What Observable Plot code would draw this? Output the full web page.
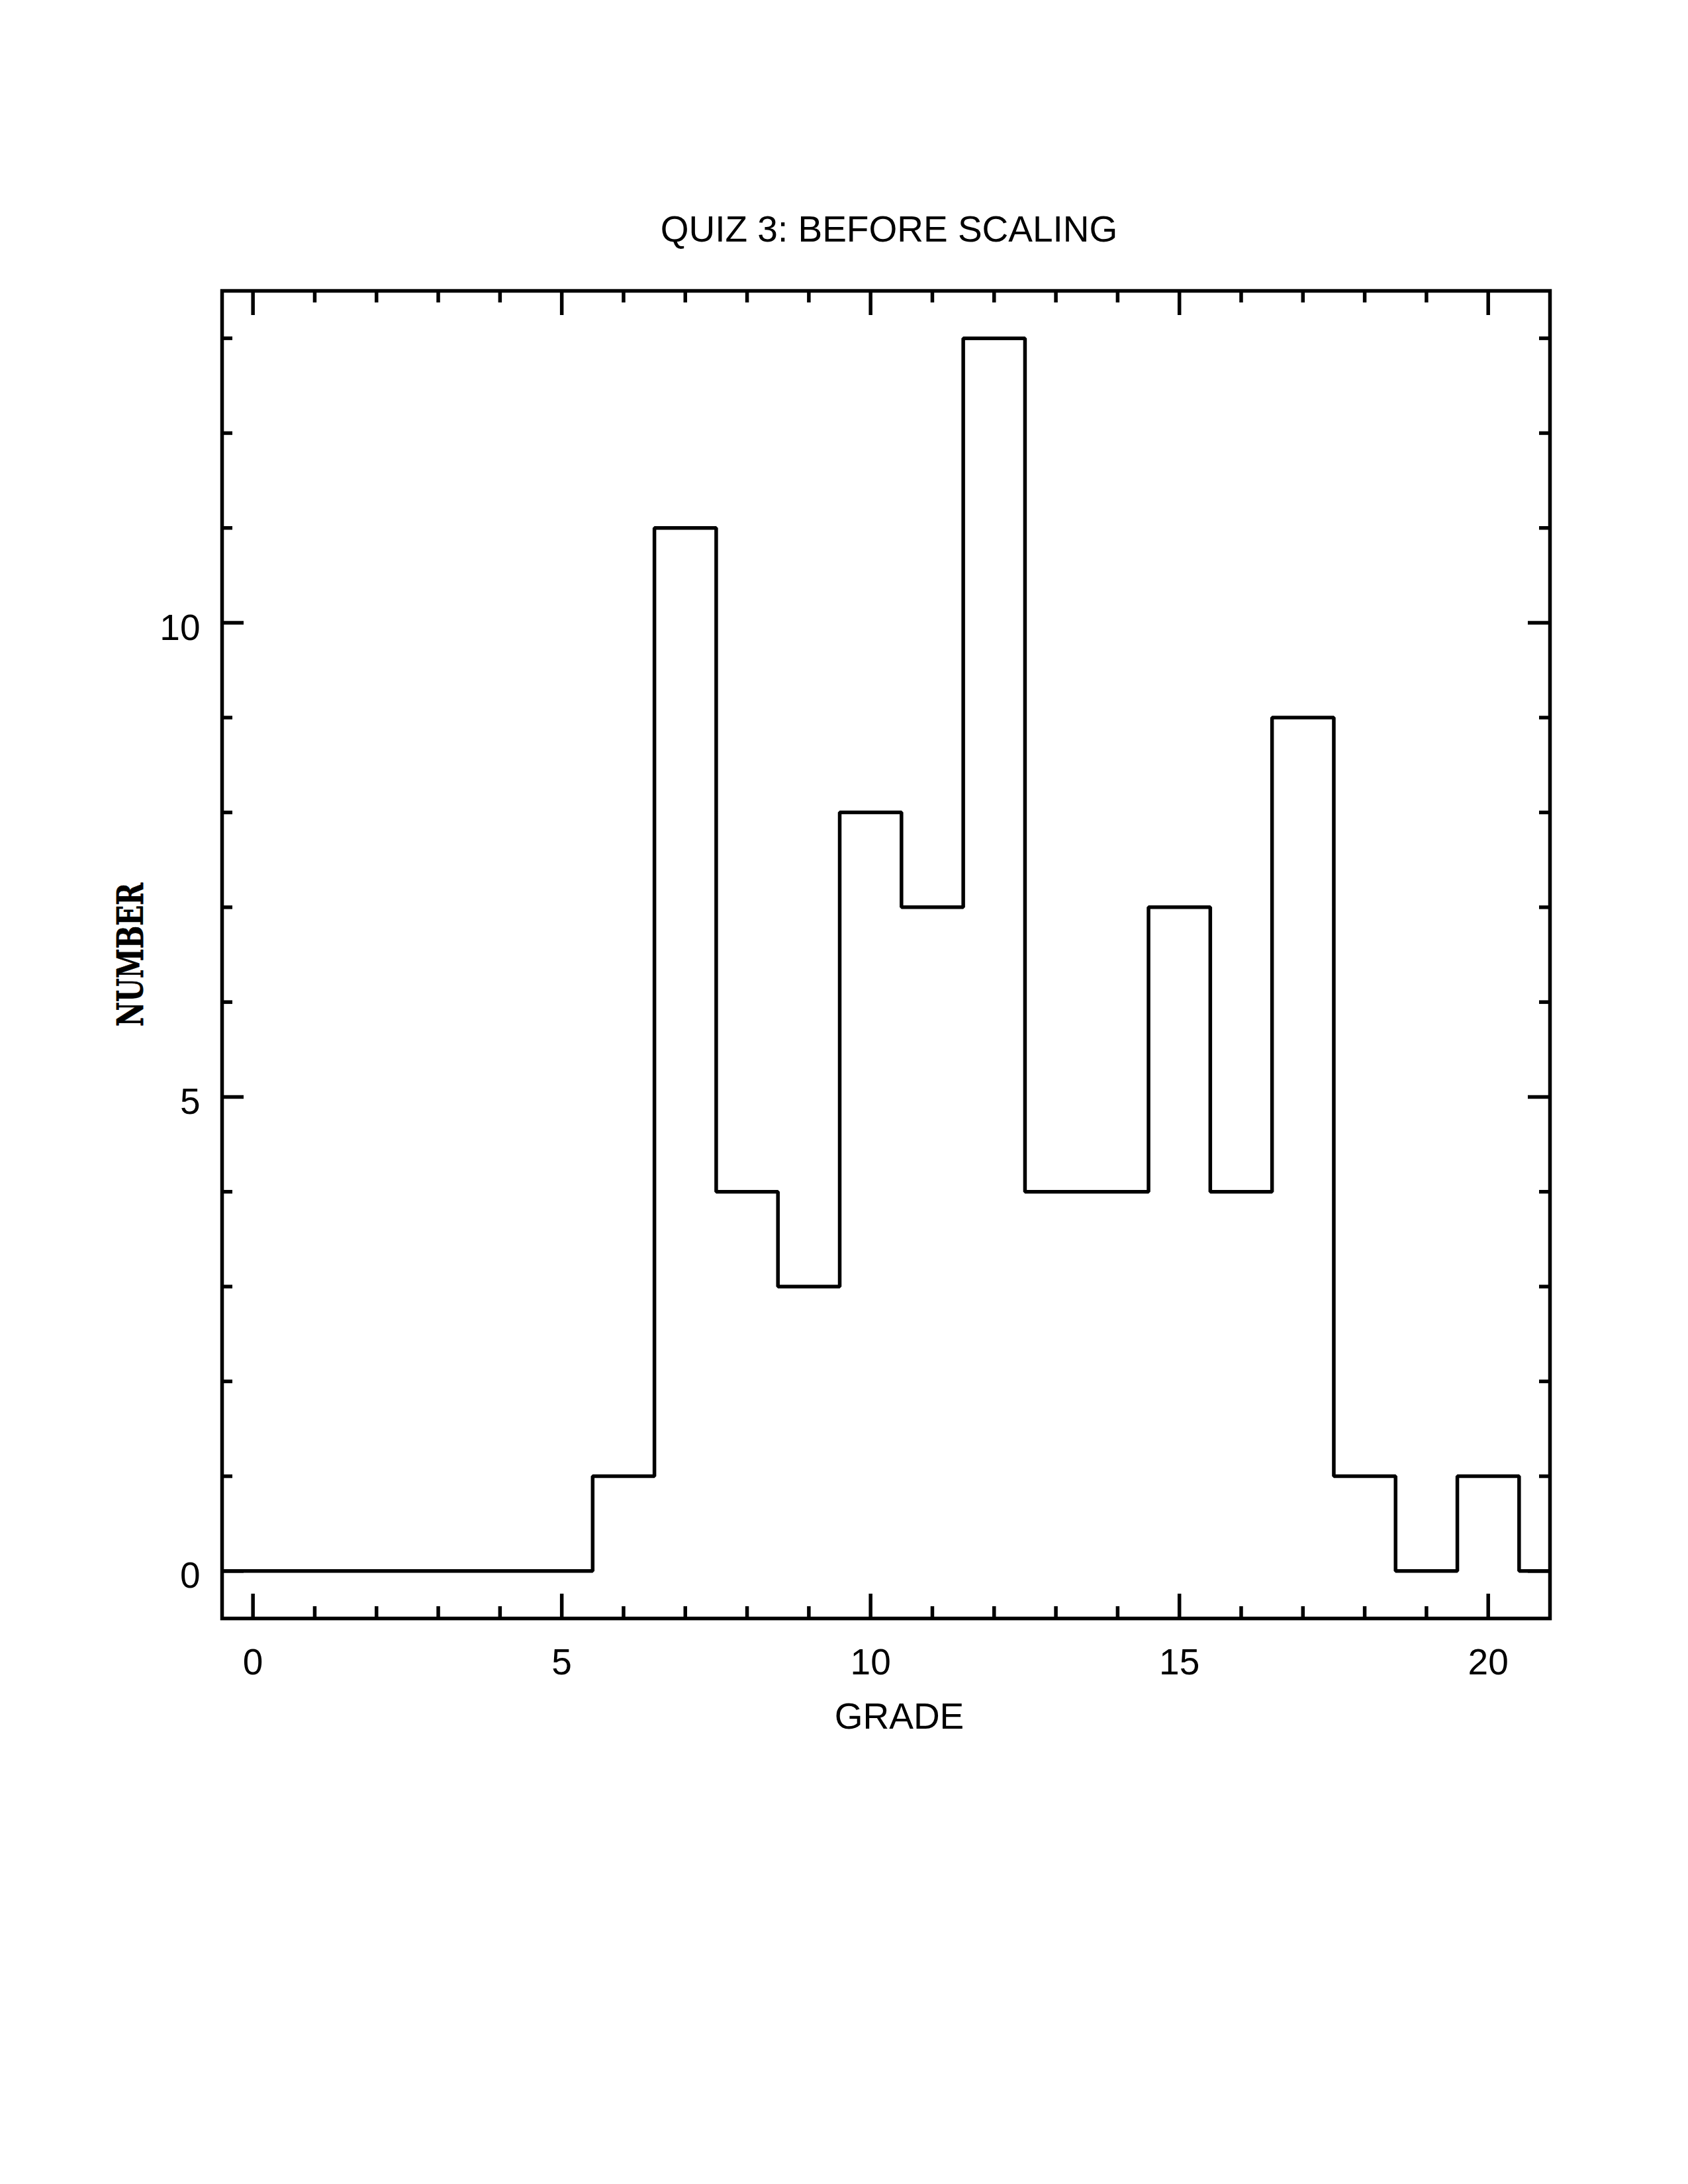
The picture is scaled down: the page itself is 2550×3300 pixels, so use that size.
<!DOCTYPE html>
<html>
<head>
<meta charset="utf-8">
<script src="https://cdn.jsdelivr.net/npm/d3@7"></script>
<script src="https://cdn.jsdelivr.net/npm/@observablehq/plot@0.6"></script>
<style>
  html, body { margin: 0; padding: 0; background: #fff; }
  #page { position: relative; width: 2550px; height: 3300px; background: #fff; }
  #title { position: relative; height: 400px; width: 2550px; }
  #title span {
    position: absolute; left: 1343px; top: 319px; transform: translateX(-50%);
    font-family: "Liberation Sans", Arial, sans-serif; font-size: 55px; line-height: 55px;
    white-space: nowrap; color: #000;
  }
  #chart svg { display: block; }
</style>
</head>
<body>
<div id="page">
  <div id="title"><span>QUIZ 3: BEFORE SCALING</span></div>
  <div id="chart"></div>
</div>
<script>
// ---- data ----
const grades = [0,1,2,3,4,5,6,7,8,9,10,11,12,13,14,15,16,17,18,19,20,21];
const counts = [0,0,0,0,0,0,1,11,4,3,8,7,13,4,4,7,4,9,1,0,1,0];
const xMajorTicks = [0,5,10,15,20];
const xMinorTicks = [1,2,3,4,6,7,8,9,11,12,13,14,16,17,18,19];
const yMajorTicks = [0,5,10];
const yMinorTicks = [1,2,3,4,6,7,8,9,11,12,13];
const xDomain = [-0.5, 21];
const yDomain = [-0.5, 13.5];
const xLabel = "GRADE";
const yLabel = "NUMBER";
const binWidth = 1;

// ---- layout ----
const W = 2550, H = 2300;
const mt = 39, mb = 255, ml = 335, mr = 209;
const frameH = H - mt - mb, frameW = W - ml - mr;
const font = '"Liberation Sans", Arial, sans-serif';
const lw = 5.5;
const yLabelLength = 217;

const steps = grades.flatMap((g, i) => [
  {x: g - binWidth / 2, y: counts[i]},
  {x: g + binWidth / 2, y: counts[i]}
]);

const chart = Plot.plot({
  width: W, height: H,
  marginTop: mt, marginBottom: mb, marginLeft: ml, marginRight: mr,
  style: {fontFamily: font, background: "#fff", color: "#000"},
  x: {domain: xDomain, axis: null},
  y: {domain: yDomain, axis: null},
  marks: [
    // step outline of the histogram
    Plot.line(steps, {x: "x", y: "y", stroke: "#000", strokeWidth: lw, strokeLinejoin: "miter", strokeLinecap: "square", clip: true}),
    // inward ticks, all four sides
    Plot.tickX(xMajorTicks, {x: d => d, insetTop: frameH - 37, strokeWidth: lw}),
    Plot.tickX(xMinorTicks, {x: d => d, insetTop: frameH - 18, strokeWidth: lw}),
    Plot.tickX(xMajorTicks, {x: d => d, insetBottom: frameH - 37, strokeWidth: lw}),
    Plot.tickX(xMinorTicks, {x: d => d, insetBottom: frameH - 18, strokeWidth: lw}),
    Plot.tickY(yMajorTicks, {y: d => d, insetRight: frameW - 33, strokeWidth: lw}),
    Plot.tickY(yMinorTicks, {y: d => d, insetRight: frameW - 16, strokeWidth: lw}),
    Plot.tickY(yMajorTicks, {y: d => d, insetLeft: frameW - 33, strokeWidth: lw}),
    Plot.tickY(yMinorTicks, {y: d => d, insetLeft: frameW - 16, strokeWidth: lw}),
    // tick labels
    Plot.axisX(xMajorTicks, {anchor: "bottom", tickSize: 0, tickPadding: 45, fontSize: 55, label: null, tickFormat: d => String(d)}),
    Plot.axisY(yMajorTicks, {anchor: "left", tickSize: 0, tickPadding: 33, fontSize: 55, label: null, dy: 8, tickFormat: d => String(d)}),
    // axis titles
    Plot.text([xLabel], {frameAnchor: "bottom", text: d => d, lineAnchor: "top", dy: 127, dx: 20, fontSize: 55}),
    Plot.text([yLabel], {frameAnchor: "left", text: d => d, rotate: -90, lineAnchor: "middle", textAnchor: "start",
      dx: -137, dy: yLabelLength / 2, fontSize: 54,
      fontFamily: '"DejaVu Serif", serif', fontWeight: "bold", fill: "#000", stroke: "#000", strokeWidth: 0.8}),
    Plot.frame({stroke: "#000", strokeWidth: lw})
  ]
});
document.getElementById("chart").appendChild(chart);

// condense the bold serif y label to the reference's width
d3.select(chart).selectAll("text").filter(function() { return this.textContent === yLabel; })
  .attr("textLength", yLabelLength).attr("lengthAdjust", "spacingAndGlyphs");
</script>
</body>
</html>
